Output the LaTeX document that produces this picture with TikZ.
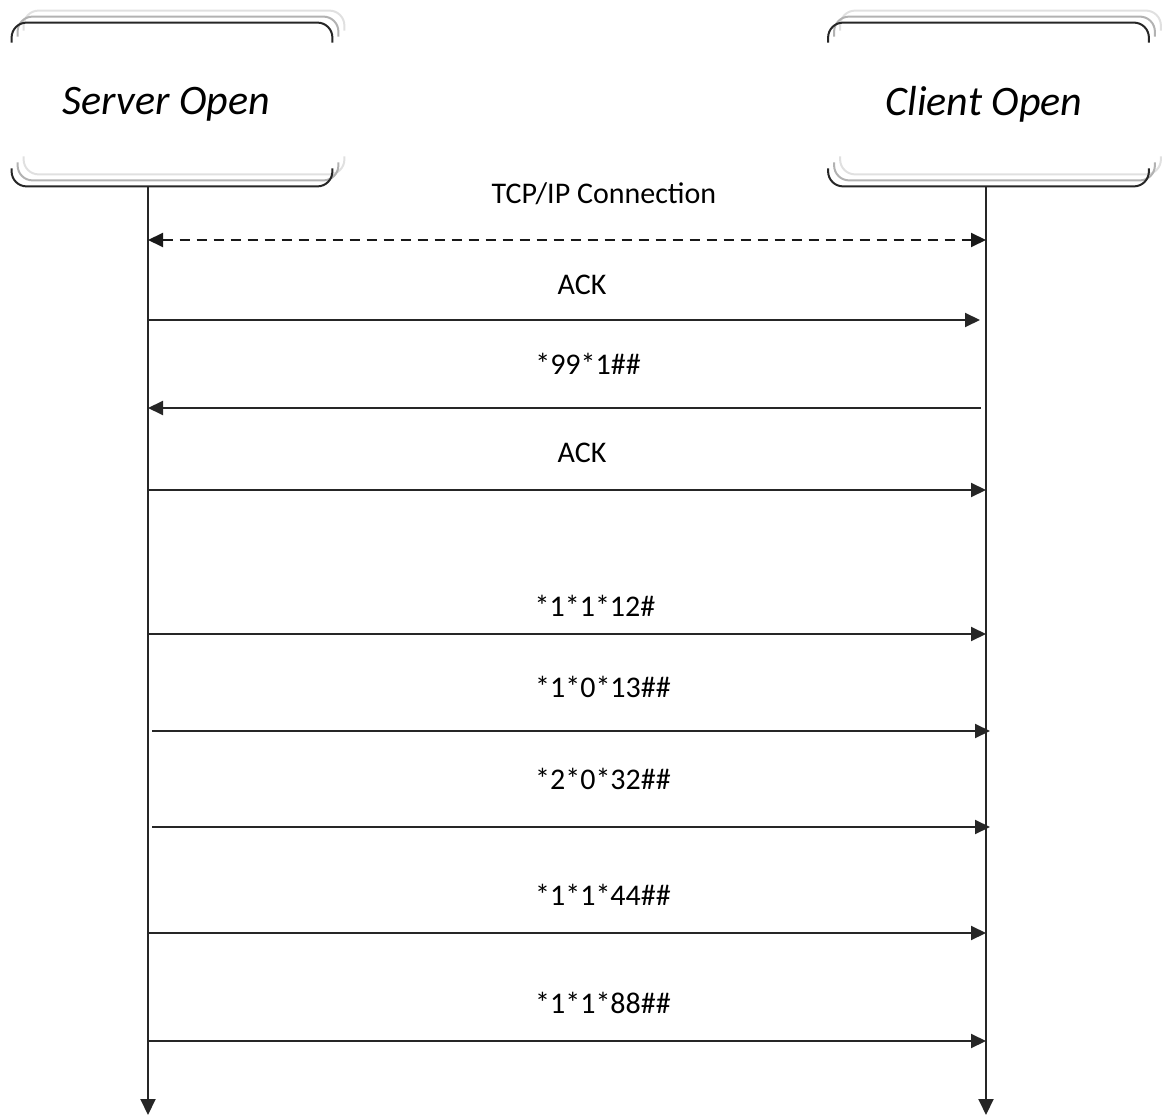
\documentclass[tikz,border=0pt]{standalone}
\usepackage{fontspec}
\setmainfont{Carlito}
\usetikzlibrary{arrows.meta}
\begin{document}
\begin{tikzpicture}[
    x=0.5pt, y=-0.5pt,
    header/.style={minimum width=160pt, minimum height=81.5pt, font=\fontsize{21}{25}\selectfont\itshape},
    msg/.style={font=\fontsize{15}{18}\selectfont},
    arrow/.style={-{Triangle[length=7.5pt, width=7pt]}, line width=1pt, black!85},
    twoway/.style={{Triangle[length=7.5pt, width=7pt]}-{Triangle[length=7.5pt, width=7pt]}, line width=1pt, black!90, dash pattern=on 5pt off 3.5pt},
    life/.style={-{Triangle[length=8pt, width=7.5pt]}, line width=1pt, black!85}
]
\useasboundingbox (0,0) rectangle (1162,1117);

% Participants
\node[header] (srv) at (172,104.5) {\hspace*{-5.5pt}Server Open};
\node[header] (cli) at (988.5,104.5) {\hspace*{-4.5pt}Client Open};

% Open boxes, each with two faint shadows
\foreach \who in {srv, cli} {
  \foreach \d/\col in {6/black!12, 3/black!30, 0/black!85} {
    \draw[\col, line width=1pt, rounded corners=7.5pt]
      ([shift={(\d pt,\d pt)}]\who.north west) ++(0,-10pt) |- ([shift={(\d pt,\d pt)}]\who.north east) -- ++(0,-10pt);
    \draw[\col, line width=1pt, rounded corners=7.5pt]
      ([shift={(\d pt,\d pt)}]\who.south west) ++(0,9pt) |- ([shift={(\d pt,\d pt)}]\who.south east) -- ++(0,9pt);
  }
}

% Lifelines
\coordinate (srvtop) at (148,187);
\coordinate (srvend) at (148,1115);
\coordinate (clitop) at (986,187);
\coordinate (cliend) at (986,1115);
\draw[life] (srvtop) -- (srvend);
\draw[life] (clitop) -- (cliend);

% TCP/IP connection
\node[msg] (tcp) at (604,194) {TCP/IP Connection};
\coordinate (s1) at (148,240);
\coordinate (c1) at (986,240);
\draw[twoway] (s1) -- (c1);

% ACK
\node[msg] (ack1) at (582,285) {ACK};
\coordinate (s2) at (148,320);
\coordinate (c2) at (980,320);
\draw[arrow] (s2) -- (c2);

% *99*1##
\node[msg] (open) at (588,364) {*99*1\#\#};
\coordinate (s3) at (148,408);
\coordinate (c3) at (981,408);
\draw[arrow] (c3) -- (s3);

% ACK
\node[msg] (ack2) at (582,453) {ACK};
\coordinate (s4) at (148,490);
\coordinate (c4) at (986,490);
\draw[arrow] (s4) -- (c4);

% Commands
\node[msg] (cmd1) at (595,606) {*1*1*12\#};
\coordinate (s5) at (148,634);
\coordinate (c5) at (986,634);
\draw[arrow] (s5) -- (c5);

\node[msg] (cmd2) at (603,687) {*1*0*13\#\#};
\coordinate (s6) at (152,731);
\coordinate (c6) at (990,731);
\draw[arrow] (s6) -- (c6);

\node[msg] (cmd3) at (603,779) {*2*0*32\#\#};
\coordinate (s7) at (152,827);
\coordinate (c7) at (990,827);
\draw[arrow] (s7) -- (c7);

\node[msg] (cmd4) at (603,895) {*1*1*44\#\#};
\coordinate (s8) at (148,933);
\coordinate (c8) at (986,933);
\draw[arrow] (s8) -- (c8);

\node[msg] (cmd5) at (603,1003) {*1*1*88\#\#};
\coordinate (s9) at (148,1041);
\coordinate (c9) at (986,1041);
\draw[arrow] (s9) -- (c9);

\end{tikzpicture}
\end{document}
